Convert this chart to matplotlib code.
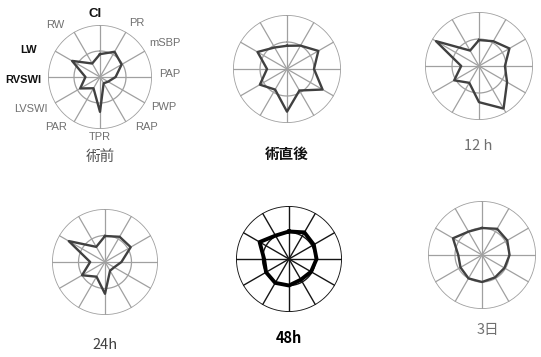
import numpy as np
import matplotlib
matplotlib.use("Agg")
import matplotlib.pyplot as plt

# Haemodynamic indices, clockwise from the top
labels = ["CI", "PR", "mSBP", "PAP", "PWP", "RAP", "TPR", "PAR", "LVSWI", "RVSWI", "LW", "RW"]

# Normalised values (outer circle = 1.0, normal circle = 0.5)
pre_op   = [0.44, 0.56, 0.48, 0.30, 0.18, 0.14, 0.67, 0.25, 0.44, 0.28, 0.62, 0.30]
post_op  = [0.43, 0.50, 0.67, 0.50, 0.76, 0.46, 0.79, 0.44, 0.58, 0.37, 0.63, 0.46]
h12      = [0.48, 0.53, 0.65, 0.48, 0.60, 0.91, 0.67, 0.36, 0.53, 0.33, 0.92, 0.33]
h24      = [0.49, 0.55, 0.56, 0.31, 0.20, 0.19, 0.60, 0.32, 0.50, 0.28, 0.79, 0.33]
h48      = [0.52, 0.58, 0.54, 0.52, 0.48, 0.45, 0.50, 0.52, 0.50, 0.47, 0.64, 0.51]
day3     = [0.50, 0.56, 0.54, 0.51, 0.48, 0.48, 0.50, 0.50, 0.46, 0.44, 0.62, 0.50]

titles = ["術前", "術直後", "12 h", "24h", "48h", "3日"]
series = [pre_op, post_op, h12, h24, h48, day3]

W, H = 541, 357
fig = plt.figure(figsize=(W / 100, H / 100), dpi=100)
fig.patch.set_facecolor("white")

# panel centre (px), radius (px), title position (px)
panels = [
    dict(c=(100, 77), r=52, t=(100, 157), grid="#a0a0a0", line="#404040", lw=1.7, glw=0.9,
         tc="#505050", tw="normal", ts=10.5),
    dict(c=(287, 69), r=54, t=(287, 154), grid="#a0a0a0", line="#404040", lw=1.7, glw=0.9,
         tc="#111111", tw="bold", ts=10.5),
    dict(c=(479, 66), r=54, t=(478, 146), grid="#a0a0a0", line="#404040", lw=1.7, glw=0.9,
         tc="#707070", tw="normal", ts=10.5),
    dict(c=(105, 262), r=53, t=(105, 345), grid="#a0a0a0", line="#404040", lw=1.7, glw=0.9,
         tc="#404040", tw="normal", ts=10.5),
    dict(c=(289, 259), r=53, t=(289, 338), grid="#151515", line="#000000", lw=2.8, glw=1.0,
         tc="#000000", tw="bold", ts=10.5),
    dict(c=(482, 255), r=54, t=(488, 330), grid="#a0a0a0", line="#404040", lw=1.7, glw=0.9,
         tc="#707070", tw="normal", ts=10.5),
]

n = len(labels)
theta = np.arange(n) * 2 * np.pi / n
ring = np.linspace(0, 2 * np.pi, 361)
jp = ["Noto Sans CJK JP", "DejaVu Sans"]

for vals, title, p in zip(series, titles, panels):
    cx, cy = p["c"]
    R = p["r"]
    ax = fig.add_axes([(cx - R) / W, (H - cy - R) / H, 2 * R / W, 2 * R / H],
                      projection="polar")
    ax.set_theta_offset(np.pi / 2)
    ax.set_theta_direction(-1)
    ax.set_ylim(0, 1)
    ax.set_xticks([])
    ax.set_yticks([])
    ax.grid(False)
    ax.spines["polar"].set_visible(False)
    ax.set_facecolor("none")

    ax.plot(ring, np.ones_like(ring), color=p["grid"], lw=p["glw"] + 0.3)
    ax.plot(ring, np.full_like(ring, 0.5), color=p["grid"], lw=p["glw"])
    for t in theta:
        ax.plot([t, t], [0, 1], color=p["grid"], lw=p["glw"])

    v = np.array(vals + vals[:1])
    tt = np.append(theta, theta[0])
    ax.plot(tt, v, color=p["line"], lw=p["lw"], solid_joinstyle="round")

    fig.text(p["t"][0] / W, 1 - p["t"][1] / H, title, ha="center", va="center",
             fontsize=p["ts"], color=p["tc"], fontweight=p["tw"], family=jp)

# axis labels around the first panel (pixel positions)
label_pos = [(95, 14), (137, 23), (165, 43), (170, 74), (164, 107), (147, 127),
             (100, 137), (56, 127), (31, 109), (23, 80), (29, 50), (55, 25)]
label_style = {
    "CI": ("#111111", "bold", 9.5),
    "LW": ("#111111", "bold", 8),
    "RVSWI": ("#111111", "bold", 8),
}
for lab, (x, y) in zip(labels, label_pos):
    col, wt, fs = label_style.get(lab, ("#707070", "normal", 8))
    fig.text(x / W, 1 - y / H, lab, ha="center", va="center", color=col,
             fontweight=wt, fontsize=fs, family="Liberation Sans")

fig.savefig("out.png", dpi=100, facecolor="white")
